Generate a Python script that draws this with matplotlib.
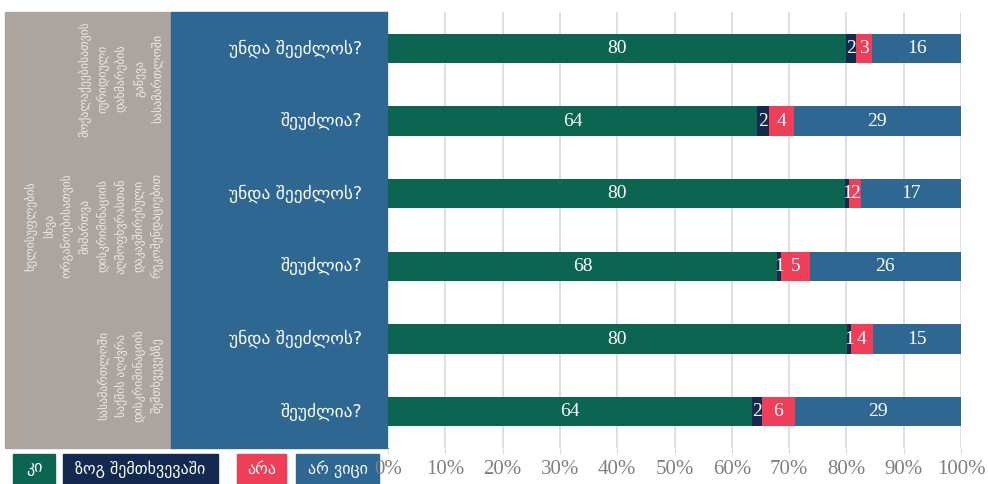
import matplotlib
matplotlib.use("Agg")
import matplotlib.pyplot as plt
from matplotlib.patches import Rectangle
import matplotlib.transforms as mtransforms
import numpy as np

# data (percent), top to bottom
questions = ["უნდა შეეძლოს?", "შეუძლია?", "უნდა შეეძლოს?", "შეუძლია?", "უნდა შეეძლოს?", "შეუძლია?"]
groups = [
    "მოქალაქეებისათვის\nიურიდიული\nდახმარების\nგაწევა\nსასამართლოში",
    "ხელისუფლების\nსხვა\nორგანოებისათვის\nმიმართვა\nდისკრიმინაციის\nაღმოფხვრასთან\nდაკავშირებული\nრეკომენდაციებით",
    "სასამართლოში\nსაქმის აღძვრა\nდისკრიმინაციის\nშემთხვევებზე",
]
yes = [80.0, 64.4, 79.8, 67.9, 80.1, 63.6]
sometimes = [1.6, 2.1, 0.6, 0.7, 0.7, 1.6]
no = [2.9, 4.3, 2.2, 5.0, 3.8, 5.9]
dont_know = [15.5, 29.2, 17.4, 26.4, 15.4, 28.9]
series_names = ["კი", "ზოგ შემთხვევაში", "არა", "არ ვიცი"]
colors = ["#0b6550", "#13294f", "#ef3f58", "#2d6792"]
x_ticks = [0, 10, 20, 30, 40, 50, 60, 70, 80, 90, 100]

W, H = 988, 484
fig = plt.figure(figsize=(W / 100, H / 100), dpi=100)

# overlay in pixel coords for the side panels and legend
over = fig.add_axes([0, 0, 1, 1])
over.set_xlim(0, W)
over.set_ylim(H, 0)
over.axis("off")

ax = fig.add_axes([388 / W, (H - 448) / H, (961 - 388) / W, (448 - 12) / H])

series = [yes, sometimes, no, dont_know]
y = np.arange(len(questions))
left = np.zeros(len(questions))
for vals, col in zip(series, colors):
    vals = np.array(vals)
    ax.barh(y, vals, left=left, height=0.4, color=col, zorder=3)
    for yi, l, v in zip(y, left, vals):
        ax.text(l + v / 2, yi, f"{v:.0f}", ha="center", va="center", color="white",
                fontsize=14, family="Liberation Serif", zorder=4)
    left += vals

ax.set_xlim(0, 100)
ax.set_ylim(len(questions) - 0.5, -0.5)
ax.set_yticks([])
ax.set_xticks(x_ticks)
ax.set_xticklabels([f"{t}%" for t in x_ticks], family="Liberation Serif", fontsize=15, color="#7f7f7f")
offset = mtransforms.ScaledTranslation(6 / 100, 0, fig.dpi_scale_trans)
for lab in ax.get_xticklabels():
    lab.set_transform(lab.get_transform() + offset)
ax.tick_params(axis="x", length=4, color="#d9d9d9", pad=5)
ax.grid(axis="x", color="#d9d9d9", linewidth=1.2, zorder=0)
for s in ax.spines.values():
    s.set_visible(False)

# side panels
over.add_patch(Rectangle((5, 12), 166, 436, color="#aca49f"))
over.add_patch(Rectangle((171, 12), 217, 436, color="#2d6792"))
row_h = 436 / len(questions)
for i, q in enumerate(questions):
    over.text(362, 12 + row_h * (i + 0.5), q, ha="right", va="center", color="white",
              fontsize=12.5, family="DejaVu Sans")
grp_h = 436 / len(groups)
grp_shift = [-6, -4, 0]
for i, g in enumerate(groups):
    over.text(164, 12 + grp_h * (i + 0.5) + grp_shift[i], g, rotation=90, ha="right", va="center",
              multialignment="center", color="#ececec", fontsize=8.5, linespacing=1.5,
              family="DejaVu Sans")

# legend boxes
boxes = [(13, 55), (63, 218), (237, 286), (296, 379)]
for (x0, x1), name, col in zip(boxes, series_names, colors):
    over.add_patch(Rectangle((x0, 454), x1 - x0, 30, color=col))
    over.text((x0 + x1) / 2, 469, name, ha="center", va="center", color="white",
              fontsize=11.5, family="DejaVu Sans")

fig.savefig("out.png", dpi=100)
